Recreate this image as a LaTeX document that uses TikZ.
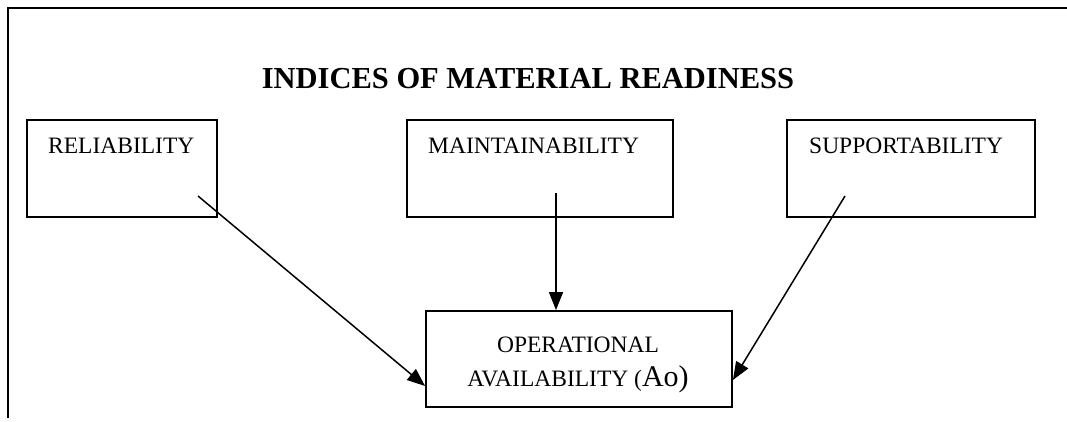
\documentclass[tikz,border=0pt]{standalone}
\usepackage{fontspec}
\setmainfont{Liberation Serif}
\usetikzlibrary{arrows.meta}
\begin{document}
\begin{tikzpicture}[x=1pt,y=-1pt,
  frameline/.style={line width=2pt},
  box/.style={draw,line width=1.8pt,rectangle,inner sep=0pt},
  boxtext/.style={inner sep=0pt,font=\fontsize{23.5}{27}\selectfont},
  link/.style={line width=1.5pt,-{Triangle[length=18pt,width=14pt]}}]
  \useasboundingbox (0,0) rectangle (1067,421);
  % open frame: top and left edges
  \draw[frameline] (8,418) -- (8,8) -- (1067,8);
  % heading
  \node[inner sep=0pt,anchor=base,font=\fontsize{30.5}{34}\selectfont\bfseries] (title) at (528,88) {INDICES OF MATERIAL READINESS};
  % three index boxes
  \node[box,minimum width=190pt,minimum height=97pt] (rel) at (122,168.5) {};
  \node[box,minimum width=266pt,minimum height=97pt] (mnt) at (540,168.5) {};
  \node[box,minimum width=248pt,minimum height=97pt] (sup) at (911,168.5) {};
  \node[boxtext,anchor=base west] (reltext) at (48,153) {RELIABILITY};
  \node[boxtext,anchor=base west] (mnttext) at (428,153) {MAINTAINABILITY};
  \node[boxtext,anchor=base west] (suptext) at (809,153) {SUPPORTABILITY};
  % result box
  \node[box,minimum width=306pt,minimum height=96pt] (op) at (579,359) {};
  \node[boxtext,anchor=base] (optext1) at (578,352) {OPERATIONAL};
  \node[boxtext,anchor=base] (optext2) at (578,386) {AVAILABILITY (\fontsize{30}{34}\selectfont Ao)};
  % connector start points inside the index boxes
  \coordinate (relfoot) at (198,196);
  \coordinate (mntfoot) at (556,193);
  \coordinate (supfoot) at (845,196);
  % connectors
  \draw[link] (relfoot) -- ([yshift=-27pt]op.west);
  \draw[link] (mntfoot) -- (mntfoot |- op.north);
  \draw[link] (supfoot) -- ([yshift=-21pt]op.east);
\end{tikzpicture}
\end{document}
